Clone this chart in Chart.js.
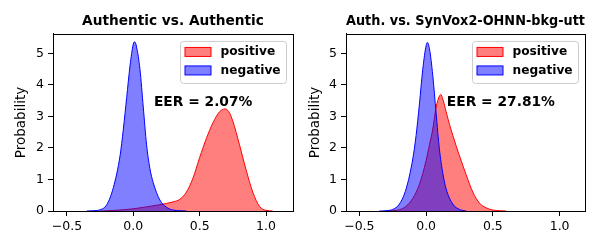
<!DOCTYPE html>
<html>
<head>
<meta charset="utf-8">
<script src="https://cdn.jsdelivr.net/npm/chart.js@4.4.0/dist/chart.umd.min.js"></script>
<style>
  body { margin: 0; background: #fff; }
  .wrap { display: flex; width: 600px; height: 250px; }
  canvas { display: block; }
</style>
</head>
<body>
<div class="wrap">
  <canvas id="leftChart" width="300" height="250"></canvas>
  <canvas id="rightChart" width="300" height="250"></canvas>
</div>
<script>
// tick labels
const xTicks = [-0.5, 0.0, 0.5, 1.0];
const yTicks = [0, 1, 2, 3, 4, 5];

// Authentic vs. Authentic
const authPosX = [-0.25, -0.2, -0.1, 0.0, 0.1, 0.2, 0.3, 0.35, 0.4, 0.45, 0.5, 0.55, 0.6, 0.65, 0.69, 0.72, 0.75, 0.8, 0.85, 0.9, 0.95, 1.0, 1.05];
const authPosY = [0, 0.005, 0.03, 0.07, 0.13, 0.2, 0.29, 0.37, 0.6, 1.05, 1.7, 2.3, 2.8, 3.15, 3.24, 3.15, 2.85, 2.1, 1.3, 0.6, 0.15, 0.02, 0];
const authNegX = [-0.35, -0.3, -0.25, -0.2, -0.15, -0.1, -0.075, -0.05, -0.025, 0.0, 0.01, 0.025, 0.05, 0.075, 0.1, 0.125, 0.15, 0.2, 0.25, 0.3, 0.35, 0.4];
const authNegY = [0, 0.01, 0.04, 0.2, 0.75, 1.75, 2.6, 3.6, 4.6, 5.3, 5.37, 5.2, 4.5, 3.3, 2.1, 1.35, 0.9, 0.35, 0.12, 0.03, 0.01, 0];
const authEER = 2.07;

// Auth. vs. SynVox2-OHNN-bkg-utt
const synPosX = [-0.3, -0.25, -0.2, -0.15, -0.1, -0.05, 0.0, 0.025, 0.05, 0.075, 0.1, 0.11, 0.125, 0.15, 0.175, 0.2, 0.25, 0.3, 0.35, 0.4, 0.45, 0.5, 0.55, 0.6];
const synPosY = [0, 0.01, 0.04, 0.15, 0.4, 0.85, 1.6, 2.1, 2.6, 3.3, 3.65, 3.7, 3.55, 3.15, 2.75, 2.4, 1.75, 1.15, 0.6, 0.25, 0.1, 0.03, 0.01, 0];
const synNegX = [-0.35, -0.3, -0.25, -0.2, -0.15, -0.1, -0.075, -0.05, -0.025, 0.0, 0.01, 0.025, 0.05, 0.075, 0.1, 0.125, 0.15, 0.2, 0.25, 0.3];
const synNegY = [0, 0.01, 0.05, 0.22, 0.7, 1.65, 2.4, 3.4, 4.5, 5.25, 5.35, 5.15, 4.3, 3.1, 1.95, 1.2, 0.7, 0.22, 0.05, 0];
const synEER = 27.81;

const FONT = "'DejaVu Sans', sans-serif";

// legend box, EER text and the axes frame
const extras = {
    id: 'extras',
    afterDraw(chart, args, opts) {
        const { ctx, chartArea: a, scales } = chart;
        ctx.save();

        const lw = 106, lh = 42;
        const lx = a.right - 7 - lw, ly = a.top + 7;
        ctx.beginPath();
        ctx.roundRect(lx + 0.5, ly + 0.5, lw, lh, 3);
        ctx.fillStyle = 'rgba(255,255,255,0.8)';
        ctx.fill();
        ctx.strokeStyle = '#cccccc';
        ctx.lineWidth = 1;
        ctx.stroke();
        chart.data.datasets.forEach((ds, i) => {
            const ry = ly + 11 + i * 18.5;
            ctx.fillStyle = ds.backgroundColor;
            ctx.fillRect(lx + 5, ry - 4.5, 26, 9);
            ctx.strokeStyle = ds.borderColor;
            ctx.strokeRect(lx + 5, ry - 4.5, 26, 9);
            ctx.fillStyle = '#000';
            ctx.font = 'bold 12.2px ' + FONT;
            ctx.textBaseline = 'middle';
            ctx.fillText(ds.label, lx + 40.5, ry);
        });

        ctx.font = 'bold 13.8px ' + FONT;
        ctx.textBaseline = 'alphabetic';
        ctx.fillStyle = '#000';
        ctx.fillText('EER = ' + opts.eer.toFixed(2) + '%', scales.x.getPixelForValue(0.155), scales.y.getPixelForValue(3.34));

        ctx.strokeStyle = '#000';
        ctx.lineWidth = 1;
        ctx.strokeRect(Math.round(a.left) + 0.5, Math.round(a.top) + 0.5, Math.round(a.right - a.left), Math.round(a.bottom - a.top));
        ctx.restore();
    }
};

const points = (xs, ys) => xs.map((x, i) => ({ x: x, y: ys[i] }));

const makePanel = (sel, title, posX, posY, negX, negY, eer, p) => {
    const canvas = document.querySelector(sel);
    return new Chart(canvas, {
        type: 'line',
        data: {
            datasets: [{
                label: 'positive',
                data: points(posX, posY),
                borderColor: '#ff0000',
                backgroundColor: 'rgba(255,0,0,0.5)',
                fill: 'origin',
                order: 2
            }, {
                label: 'negative',
                data: points(negX, negY),
                borderColor: '#0000ff',
                backgroundColor: 'rgba(0,0,255,0.5)',
                fill: 'origin',
                order: 1
            }]
        },
        options: {
            responsive: false,
            animation: false,
            devicePixelRatio: 1,
            elements: {
                point: { radius: 0 },
                line: { borderWidth: 1, cubicInterpolationMode: 'monotone' }
            },
            layout: { padding: { left: 0, right: p.rightPad, top: 0, bottom: 0 } },
            plugins: {
                legend: { display: false },
                tooltip: { enabled: false },
                title: {
                    display: true,
                    text: title,
                    fullSize: false,
                    color: '#000',
                    font: { family: FONT, size: 13.7, weight: 'bold' },
                    padding: { top: 13.5, bottom: 4 }
                },
                extras: { eer: eer }
            },
            scales: {
                x: {
                    type: 'linear',
                    min: p.xMin,
                    max: p.xMax,
                    afterBuildTicks: s => { s.ticks = xTicks.map(v => ({ value: v })); },
                    afterFit: s => { s.height = 39; },
                    ticks: {
                        color: '#000',
                        padding: 3,
                        maxRotation: 0,
                        autoSkip: false,
                        font: { family: FONT, size: 12.5 },
                        callback: v => v.toFixed(1).replace('-', '\u2212')
                    },
                    grid: { drawOnChartArea: false, drawTicks: true, tickLength: 5, tickColor: '#000' },
                    border: { color: '#000' }
                },
                y: {
                    min: 0,
                    max: 5.62,
                    afterBuildTicks: s => { s.ticks = yTicks.map(v => ({ value: v })); },
                    afterFit: s => { s.width = p.yWidth; },
                    ticks: {
                        color: '#000',
                        padding: 4,
                        font: { family: FONT, size: 12.5 },
                        callback: v => String(v)
                    },
                    title: {
                        display: true,
                        text: 'Probability',
                        color: '#000',
                        font: { family: FONT, size: 13.5 },
                        padding: { top: p.titlePad, bottom: 0 }
                    },
                    grid: { drawOnChartArea: false, drawTicks: true, tickLength: 5, tickColor: '#000' },
                    border: { color: '#000' }
                }
            }
        },
        plugins: [extras]
    });
};

makePanel('#leftChart', 'Authentic vs. Authentic', authPosX, authPosY, authNegX, authNegY, authEER,
    { xMin: -0.605, xMax: 1.203, yWidth: 53, rightPad: 7, titlePad: 13.6 });
makePanel('#rightChart', 'Auth. vs. SynVox2-OHNN-bkg-utt', synPosX, synPosY, synNegX, synNegY, synEER,
    { xMin: -0.6, xMax: 1.19, yWidth: 46, rightPad: 15, titlePad: 6.9 });
</script>
</body>
</html>
